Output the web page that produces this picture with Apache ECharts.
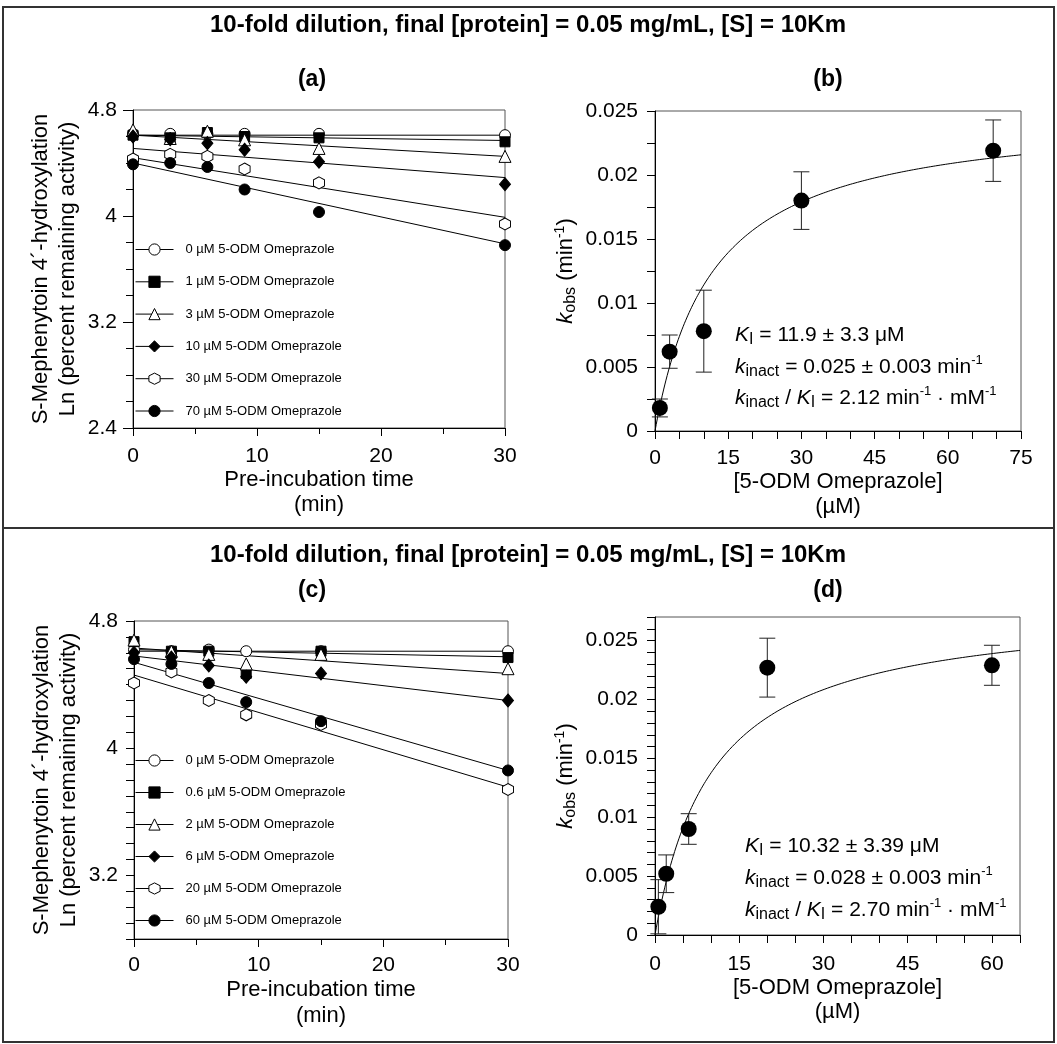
<!DOCTYPE html>
<html><head><meta charset="utf-8">
<script src="https://cdn.jsdelivr.net/npm/echarts@6/dist/echarts.min.js"></script>
<style>html,body{margin:0;padding:0;background:#fff}#c{width:1057px;height:1044px}</style>
</head><body><div id="c"></div>
<script>
// ---------- DATA ----------
const timesA = [0, 3, 6, 9, 15, 30];
const namesA = ['0 µM 5-ODM Omeprazole','1 µM 5-ODM Omeprazole','3 µM 5-ODM Omeprazole','10 µM 5-ODM Omeprazole','30 µM 5-ODM Omeprazole','70 µM 5-ODM Omeprazole'];
const lnA_0  = [4.62, 4.62, 4.62, 4.62, 4.62, 4.61];
const lnA_1  = [4.61, 4.59, 4.63, 4.60, 4.59, 4.56];
const lnA_3  = [4.65, 4.585, 4.64, 4.575, 4.51, 4.45];
const lnA_10 = [4.60, 4.58, 4.55, 4.50, 4.41, 4.24];
const lnA_30 = [4.43, 4.465, 4.45, 4.355, 4.25, 3.94];
const lnA_70 = [4.39, 4.40, 4.37, 4.20, 4.03, 3.78];
const fitA_t0  = [4.61, 4.61, 4.61, 4.51, 4.44, 4.40];
const fitA_t30 = [4.61, 4.57, 4.45, 4.29, 3.99, 3.79];

const timesC = [0, 3, 6, 9, 15, 30];
const namesC = ['0 µM 5-ODM Omeprazole','0.6 µM 5-ODM Omeprazole','2 µM 5-ODM Omeprazole','6 µM 5-ODM Omeprazole','20 µM 5-ODM Omeprazole','60 µM 5-ODM Omeprazole'];
const lnC_0  = [4.62, 4.61, 4.62, 4.61, 4.61, 4.61];
const lnC_06 = [4.67, 4.61, 4.61, 4.47, 4.61, 4.57];
const lnC_2  = [4.68, 4.61, 4.59, 4.53, 4.59, 4.50];
const lnC_6  = [4.60, 4.57, 4.52, 4.45, 4.47, 4.30];
const lnC_20 = [4.41, 4.48, 4.30, 4.21, 4.15, 3.74];
const lnC_60 = [4.56, 4.53, 4.41, 4.29, 4.17, 3.86];
const fitC_t0  = [4.61, 4.62, 4.63, 4.58, 4.46, 4.54];
const fitC_t30 = [4.61, 4.575, 4.47, 4.30, 3.755, 3.86];

const concB = [1, 3, 10, 30, 69.3];
const kobsB = [0.0018, 0.0062, 0.0078, 0.0180, 0.0219];
const errB  = [0.0007, 0.0013, 0.0032, 0.00225, 0.0024];
const KI_B = 11.9, kinact_B = 0.025;

const concD = [0.6, 2, 6, 20, 60];
const kobsD = [0.0024, 0.0052, 0.0090, 0.0227, 0.0229];
const errD  = [0.0023, 0.0016, 0.0013, 0.0025, 0.0017];
const KI_D = 10.32, kinact_D = 0.028;

// ---------- STYLE ----------
const FONT = "'Liberation Sans', Arial, Helvetica, sans-serif";
const HEX = 'path://M0,-10 L8.66,-5 L8.66,5 L0,10 L-8.66,5 L-8.66,-5 Z';
const symbols = ['circle', 'rect', 'triangle', 'diamond', HEX, 'circle'];
const symSizes = [11, 10, 12, [11, 13], [11, 12], 11];
const fills = ['#fff', '#000', '#fff', '#000', '#fff', '#000'];

function pts(xs, ys) { return xs.map((x, i) => [x, ys[i]]); }

function pointSeries(name, xi, xs, ys, k) {
  return {
    name, type: 'line', xAxisIndex: xi, yAxisIndex: xi, data: pts(xs, ys),
    symbol: symbols[k], symbolSize: symSizes[k], showSymbol: true,
    itemStyle: { color: fills[k], borderColor: '#000', borderWidth: 1, opacity: 1 },
    lineStyle: { width: 0, opacity: 0 }, z: 5, animation: false, silent: true
  };
}
function fitSeries(id, xi, x0, x1, y0, y1) {
  return {
    name: id, type: 'line', xAxisIndex: xi, yAxisIndex: xi,
    data: [[x0, y0], [x1, y1]], showSymbol: false, symbol: 'none',
    lineStyle: { color: '#000', width: 1 }, z: 3, animation: false, silent: true
  };
}
// fitted hyperbola kobs = kinact*[I]/(KI+[I]) using the parameters printed on the figure
function curveSeries(id, xi, xmax, KI, kin) {
  const d = [];
  for (let x = 0; x <= xmax + 1e-9; x += 0.25) d.push([x, kin * x / (KI + x)]);
  return { name: id, type: 'line', xAxisIndex: xi, yAxisIndex: xi, data: d, showSymbol: false, symbol: 'none',
    lineStyle: { color: '#000', width: 1 }, z: 3, animation: false, silent: true };
}
function errSeries(id, xi, xs, ys, es) {
  return {
    name: id, type: 'custom', xAxisIndex: xi, yAxisIndex: xi,
    data: xs.map((x, i) => [x, ys[i], es[i]]), encode: { x: 0, y: 1 }, z: 4, animation: false, silent: true,
    renderItem: function (params, api) {
      const x = api.value(0), y = api.value(1), e = api.value(2);
      const hi = api.coord([x, y + e]), lo = api.coord([x, y - e]);
      const hw = 8, st = { stroke: '#222', lineWidth: 1 };
      return { type: 'group', children: [
        { type: 'line', shape: { x1: hi[0], y1: hi[1], x2: lo[0], y2: lo[1] }, style: st },
        { type: 'line', shape: { x1: hi[0] - hw, y1: hi[1], x2: hi[0] + hw, y2: hi[1] }, style: st },
        { type: 'line', shape: { x1: lo[0] - hw, y1: lo[1], x2: lo[0] + hw, y2: lo[1] }, style: st }
      ]};
    }
  };
}
function dotSeries(id, xi, xs, ys) {
  return { name: id, type: 'scatter', xAxisIndex: xi, yAxisIndex: xi, data: pts(xs, ys),
    symbol: 'circle', symbolSize: 16, itemStyle: { color: '#000', opacity: 1 }, z: 5, animation: false, silent: true };
}
function isMult(v, s) { return Math.abs(v / s - Math.round(v / s)) < 1e-6; }

const axisCommon = {
  type: 'value',
  axisLine: { show: true, lineStyle: { color: '#000', width: 1 } },
  axisTick: { show: true, inside: false, length: 8, lineStyle: { color: '#000' } },
  splitLine: { show: false },
  axisLabel: { color: '#000', fontSize: 21, fontFamily: FONT },
  nameTextStyle: { color: '#000', fontSize: 22, fontFamily: FONT }
};
function ax(o) { return echarts.util.merge(echarts.util.clone(axisCommon), o, true); }

const RICH = {
  it: { fontStyle: 'italic', fontSize: 21, fontFamily: FONT, lineHeight: 26 },
  sub: { fontSize: 16, fontFamily: FONT, verticalAlign: 'bottom', lineHeight: 14 },
  sup: { fontSize: 13, fontFamily: FONT, verticalAlign: 'top', lineHeight: 10 }
};
const RICH_AX = {
  it: { fontStyle: 'italic', fontSize: 22, fontFamily: FONT, lineHeight: 26 },
  sub: { fontSize: 16, fontFamily: FONT, verticalAlign: 'bottom', lineHeight: 14 },
  sup: { fontSize: 14, fontFamily: FONT, verticalAlign: 'top', lineHeight: 10 }
};

const series = [];
const lnA = [lnA_0, lnA_1, lnA_3, lnA_10, lnA_30, lnA_70];
const lnC = [lnC_0, lnC_06, lnC_2, lnC_6, lnC_20, lnC_60];
for (let k = 0; k < 6; k++) {
  series.push(fitSeries('fitA' + k, 0, 0, 30, fitA_t0[k], fitA_t30[k]));
  series.push(pointSeries(namesA[k], 0, timesA, lnA[k], k));
  series.push(fitSeries('fitC' + k, 2, 0, 30, fitC_t0[k], fitC_t30[k]));
  series.push(pointSeries(namesC[k], 2, timesC, lnC[k], k));
}
series.push(curveSeries('curveB', 1, 75, KI_B, kinact_B));
series.push(errSeries('errB', 1, concB, kobsB, errB));
series.push(dotSeries('kobsB', 1, concB, kobsB));
series.push(curveSeries('curveD', 3, 65, KI_D, kinact_D));
series.push(errSeries('errD', 3, concD, kobsD, errD));
series.push(dotSeries('kobsD', 3, concD, kobsD));

const gridStyle = { show: true, borderColor: '#555', borderWidth: 1, backgroundColor: 'transparent' };
const legendCommon = {
  orient: 'vertical', left: 135, itemWidth: 38, itemHeight: 14, padding: 0, selectedMode: false,
  textStyle: { fontSize: 13, fontFamily: FONT, color: '#000', padding: [0, 0, 0, 7] },
  lineStyle: { color: '#000', width: 1, opacity: 1, type: 'solid' },
  itemStyle: { borderWidth: 1, borderColor: '#000' }
};

function txt(x, y, text, size, bold) {
  return { type: 'text', x, y, z: 10, silent: true,
    style: { text, fontSize: size, fontWeight: bold ? 'bold' : 'normal', fontFamily: FONT, fill: '#000', align: 'center', verticalAlign: 'middle' } };
}
function annot(x, y, text) {
  return { type: 'text', x, y, z: 10, silent: true,
    style: { text, rich: RICH, fontSize: 21, lineHeight: 26, fontFamily: FONT, fill: '#000', align: 'left', verticalAlign: 'middle' } };
}
const TITLE = '10-fold dilution, final [protein] = 0.05 mg/mL, [S] = 10Km';

const option = {
  backgroundColor: '#fff',
  animation: false,
  grid: [
    Object.assign({ left: 133, top: 110, width: 372, height: 318 }, gridStyle),
    Object.assign({ left: 655, top: 111, width: 366, height: 320 }, gridStyle),
    Object.assign({ left: 134, top: 621, width: 374, height: 318 }, gridStyle),
    Object.assign({ left: 655, top: 617, width: 365, height: 318 }, gridStyle)
  ],
  xAxis: [
    ax({ gridIndex: 0, min: 0, max: 30, interval: 10, minorTick: { show: true, splitNumber: 2, length: 6 },
      axisLabel: { margin: 18 }, name: 'Pre-incubation time\n(min)', nameLocation: 'middle', nameGap: 36, nameTextStyle: { lineHeight: 25 } }),
    ax({ gridIndex: 1, min: 0, max: 75, interval: 5, axisLabel: { margin: 17, formatter: v => isMult(v, 15) ? String(v) : '' },
      name: '[5-ODM Omeprazole]\n(µM)', nameLocation: 'middle', nameGap: 34, nameTextStyle: { lineHeight: 25 } }),
    ax({ gridIndex: 2, min: 0, max: 30, interval: 10, minorTick: { show: true, splitNumber: 2, length: 6 },
      axisLabel: { margin: 16 }, name: 'Pre-incubation time\n(min)', nameLocation: 'middle', nameGap: 35, nameTextStyle: { lineHeight: 26 } }),
    ax({ gridIndex: 3, min: 0, max: 65, interval: 5, axisLabel: { margin: 19, formatter: v => isMult(v, 15) ? String(v) : '' },
      name: '[5-ODM Omeprazole]\n(µM)', nameLocation: 'middle', nameGap: 40, nameTextStyle: { lineHeight: 24 } })
  ],
  yAxis: [
    ax({ gridIndex: 0, min: 2.4, max: 4.8, interval: 0.8, minorTick: { show: true, splitNumber: 4, length: 7 }, axisTick: { length: 10 },
      axisLabel: { margin: 16 }, name: 'S-Mephenytoin 4´-hydroxylation\nLn (percent remaining activity)', nameLocation: 'middle', nameGap: 52, nameTextStyle: { lineHeight: 27 } }),
    ax({ gridIndex: 1, min: 0, max: 0.025, interval: 0.0025, axisLabel: { margin: 17, formatter: v => isMult(v, 0.005) ? String(+v.toFixed(4)) : '' },
      name: '{it|k}{sub|obs} (min{sup|-1})', nameLocation: 'middle', nameGap: 76, nameTextStyle: { lineHeight: 26, rich: RICH_AX } }),
    ax({ gridIndex: 2, min: 2.8, max: 4.8, interval: 0.1, axisLabel: { margin: 16, formatter: v => isMult(v, 0.8) ? String(+v.toFixed(2)) : '' },
      name: 'S-Mephenytoin 4´-hydroxylation\nLn (percent remaining activity)', nameLocation: 'middle', nameGap: 52, nameTextStyle: { lineHeight: 27 } }),
    ax({ gridIndex: 3, min: 0, max: 0.027, interval: 0.001, axisLabel: { margin: 17, formatter: v => isMult(v, 0.005) ? String(+v.toFixed(4)) : '' },
      name: '{it|k}{sub|obs} (min{sup|-1})', nameLocation: 'middle', nameGap: 76, nameTextStyle: { lineHeight: 26, rich: RICH_AX } })
  ],
  legend: [
    Object.assign({ data: namesA, top: 243, itemGap: 19.3 }, legendCommon),
    Object.assign({ data: namesC, top: 754, itemGap: 19 }, legendCommon)
  ],
  graphic: [
    { type: 'rect', shape: { x: 3, y: 7, width: 1051, height: 1035 }, style: { fill: 'none', stroke: '#333', lineWidth: 2 }, silent: true },
    { type: 'line', shape: { x1: 3, y1: 528, x2: 1054, y2: 528 }, style: { stroke: '#333', lineWidth: 2 }, silent: true },
    txt(528, 25, TITLE, 24, true),
    txt(312, 80, '(a)', 23, true),
    txt(828, 80, '(b)', 23, true),
    txt(528, 555, TITLE, 24, true),
    txt(312, 591, '(c)', 23, true),
    txt(828, 591, '(d)', 23, true),
    annot(735, 335, '{it|K}{sub|I} = 11.9 ± 3.3 μM'),
    annot(735, 367, '{it|k}{sub|inact} = 0.025 ± 0.003 min{sup|-1}'),
    annot(735, 398, '{it|k}{sub|inact} / {it|K}{sub|I} = 2.12 min{sup|-1} · mM{sup|-1}'),
    annot(745, 846, '{it|K}{sub|I} = 10.32 ± 3.39 μM'),
    annot(745, 878, '{it|k}{sub|inact} = 0.028 ± 0.003 min{sup|-1}'),
    annot(745, 910, '{it|k}{sub|inact} / {it|K}{sub|I} = 2.70 min{sup|-1} · mM{sup|-1}')
  ],
  series
};
const chart = echarts.init(document.getElementById('c'), null, { renderer: 'canvas' });
chart.setOption(option);
</script>
</body></html>
